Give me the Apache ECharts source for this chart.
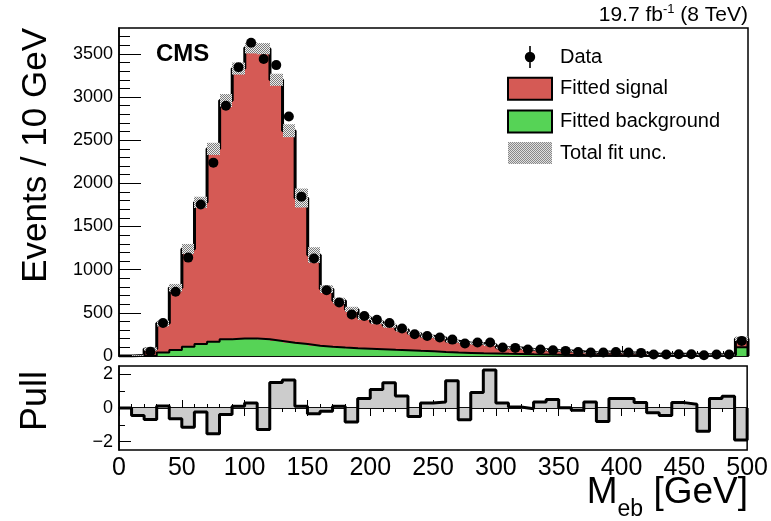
<!DOCTYPE html>
<html><head><meta charset="utf-8">
<script src="https://cdn.jsdelivr.net/npm/echarts@6/dist/echarts.min.js"></script>
<style>html,body{margin:0;padding:0;background:#fff}#c{width:771px;height:521px}</style>
</head><body><div id="c"></div>
<script>
// ---- data (10 GeV bins, last bin includes overflow) ----
const binLow = [0,10,20,30,40,50,60,70,80,90,100,110,120,130,140,150,160,170,180,190,
  200,210,220,230,240,250,260,270,280,290,300,310,320,330,340,350,360,370,380,390,
  400,410,420,430,440,450,460,470,480,490];
const binWidth = 10;
const signal = [0,8,77,338,721,1133,1641,2235,2767,3126,
  3366,3367,3025,2456,1691,1050,668,542,450,361,
  317,280,238,202,173,163,130,116,113,99,
  70,71,57,55,48,46,37,28,36,35,
  29,28,13,15,14,16,10,11,11,100];
const background = [0,0,3,40,69,107,139,165,193,204,
  204,193,175,154,139,120,107,98,90,84,
  78,72,67,60,55,45,40,36,32,29,
  25,22,19,17,15,13,11,10,9,8,
  7,6,6,5,5,4,4,4,3,100];
const fitUnc = [0,6,20,35,45,58,65,70,75,70,
  65,65,70,75,110,90,45,35,30,28,
  26,24,22,20,18,16,15,14,13,12,
  11,10,9,9,8,8,7,7,7,6,
  6,6,5,5,5,5,5,5,5,25];
const dataCounts = [null,null,50,382,745,1140,1755,2240,2900,3345,
  3630,3440,3370,2775,1845,1130,762,620,480,463,
  421,382,318,252,232,214,190,144,156,156,
  98,94,75,75,67,59,47,40,40,47,
  40,36,17,17,21,21,8,17,17,175];
const pull = [0,-0.44,-0.68,0.12,-0.64,-1.14,-0.24,-1.54,-0.38,0.1,
  0.3,-1.28,1.52,1.66,0.1,-0.34,-0.2,0.1,-0.84,0.56,
  1.1,1.5,0.72,-0.5,0.3,0.36,1.62,-0.7,0.92,2.26,
  0.3,0.06,-0.04,0.36,0.5,0.02,-0.14,0.36,-0.8,0.56,
  0.56,0.32,-0.28,-0.44,0.32,0.22,-1.38,0.56,0.7,-1.9];
const yMajorTicks = [0,500,1000,1500,2000,2500,3000,3500];
const yMinorTicks = [0,100,200,300,400,500,600,700,800,900,1000,1100,1200,1300,1400,1500,1600,1700,1800,1900,
  2000,2100,2200,2300,2400,2500,2600,2700,2800,2900,3000,3100,3200,3300,3400,3500,3600,3700];
const pullMajorTicks = [-2,0,2];
const pullMinorTicks = [-2,-1,0,1,2];

// ---- style ----
const FONT = "'Liberation Sans', Arial, Helvetica, sans-serif";
const RED = '#d55a55';
const GREEN = '#56d356';
function makeHatch(){
  const c=document.createElement('canvas'); c.width=4; c.height=4;
  const g=c.getContext('2d');
  g.fillStyle='#eeeeee'; g.fillRect(0,0,4,4);
  g.fillStyle='#7a7a7a';
  for(let y=0;y<4;y++) for(let x=0;x<4;x++) if((x+y)%2===0) g.fillRect(x,y,1,1);
  return c;
}
const HATCH = {image: makeHatch(), repeat: 'repeat'};

const total = signal.map((s,i)=>s+background[i]);
const rowsBkg = binLow.map((x,i)=>[x, x+binWidth, 0, background[i]]);
const rowsSig = binLow.map((x,i)=>[x, x+binWidth, background[i], total[i]]);
const rowsUnc = binLow.map((x,i)=>[x, x+binWidth, total[i]-fitUnc[i], total[i]+fitUnc[i]]);
const rowsPull = binLow.map((x,i)=>[x, x+binWidth, 0, pull[i]]);
function stepPts(vals){
  const p = binLow.map((x,i)=>[x, vals[i]]);
  p.push([binLow[binLow.length-1]+binWidth, vals[vals.length-1]]);
  p.push([binLow[binLow.length-1]+binWidth, 0]);
  return p;
}
const dataPts = binLow.map((x,i)=>[x+binWidth/2, dataCounts[i]]).filter(p=>p[1]!==null);

function rectItem(fill){
  return function(params, api){
    const a = api.coord([api.value(0), api.value(3)]);
    const b = api.coord([api.value(1), api.value(2)]);
    const x0 = Math.round(Math.min(a[0],b[0])), x1 = Math.round(Math.max(a[0],b[0]));
    const y = Math.min(a[1],b[1]);
    return {type:'rect', shape:{x:x0, y:y, width:x1-x0, height:Math.abs(b[1]-a[1])}, style:{fill:fill}};
  };
}
const noSep = v => String(v);

const chart = echarts.init(document.getElementById('c'), null, {renderer:'canvas'});
const axisCommon = {type:'value', splitLine:{show:false}, axisLine:{show:true, lineStyle:{color:'#000', width:1.5}}};
chart.setOption({
  animation:false,
  backgroundColor:'#fff',
  textStyle:{fontFamily:FONT},
  grid:[
    {left:119, top:28, width:629, height:328, show:true, borderColor:'#000', borderWidth:1.5},
    {left:119, top:366, width:629, height:84, show:true, borderColor:'#000', borderWidth:1.5}
  ],
  xAxis:[
    Object.assign({}, axisCommon, {gridIndex:0, min:0, max:500, interval:100,
      axisTick:{inside:true, length:10, lineStyle:{color:'#000'}},
      minorTick:{show:true, splitNumber:5, length:5, lineStyle:{color:'#000'}},
      axisLabel:{show:false}}),
    Object.assign({}, axisCommon, {gridIndex:1, min:0, max:500, interval:50, position:'bottom',
      axisTick:{inside:true, length:8, lineStyle:{color:'#000'}},
      minorTick:{show:true, splitNumber:5, length:4, lineStyle:{color:'#000'}},
      axisLabel:{show:true, fontSize:25, color:'#000', margin:6, fontFamily:FONT, formatter:noSep}}),
    Object.assign({}, axisCommon, {gridIndex:1, min:0, max:500, interval:50, position:'top',
      axisTick:{inside:true, length:8, lineStyle:{color:'#000'}},
      minorTick:{show:true, splitNumber:5, length:4, lineStyle:{color:'#000'}},
      axisLabel:{show:false}})
  ],
  yAxis:[
    Object.assign({}, axisCommon, {gridIndex:0, position:'left', min:0, max:3800,
      axisTick:{inside:true, length:22, customValues:yMajorTicks, lineStyle:{color:'#000'}},
      axisLabel:{show:true, customValues:yMajorTicks, fontSize:18, color:'#000', margin:6, fontFamily:FONT, formatter:noSep}}),
    Object.assign({}, axisCommon, {gridIndex:0, position:'left', min:0, max:3800, axisLine:{show:false},
      axisTick:{inside:true, length:11, customValues:yMinorTicks, lineStyle:{color:'#000'}},
      axisLabel:{show:false}}),
    Object.assign({}, axisCommon, {gridIndex:1, position:'left', min:-2.5, max:2.5,
      axisTick:{inside:true, length:12, customValues:pullMajorTicks, lineStyle:{color:'#000'}},
      axisLabel:{show:true, customValues:pullMajorTicks, fontSize:18, color:'#000', margin:6, fontFamily:FONT,
        formatter:v=> v<0 ? '\u2212'+(-v) : String(v)}}),
    Object.assign({}, axisCommon, {gridIndex:1, position:'left', min:-2.5, max:2.5, axisLine:{show:false},
      axisTick:{inside:true, length:6, customValues:pullMinorTicks, lineStyle:{color:'#000'}},
      axisLabel:{show:false}})
  ],
  legend:{
    orient:'vertical', left:507, top:46, padding:0, itemWidth:44, itemHeight:22, itemGap:8.7,
    selectedMode:false,
    textStyle:{fontSize:20, color:'#000', fontFamily:FONT, padding:[0,0,0,3]},
    data:[
      {name:'Data', icon:'path://M9.2,0H10.8V22H9.2Z M4.8,11A5.2,5.2,0,1,1,15.2,11A5.2,5.2,0,1,1,4.8,11Z', itemStyle:{color:'#000', opacity:1}},
      {name:'Fitted signal', icon:'rect', itemStyle:{color:RED, borderColor:'#000', borderWidth:2}},
      {name:'Fitted background', icon:'rect', itemStyle:{color:GREEN, borderColor:'#000', borderWidth:2}},
      {name:'Total fit unc.', icon:'rect', itemStyle:{color:HATCH, borderWidth:0}}
    ]
  },
  graphic:[
    {type:'text', right:23, top:3, style:{text:'{a|19.7 fb}{s|-1}{a| (8 TeV)}', fill:'#000',
      rich:{a:{fontSize:21, lineHeight:23, verticalAlign:'bottom', fontFamily:FONT, fill:'#000'},
            s:{fontSize:13, lineHeight:23, verticalAlign:'top', fontFamily:FONT, fill:'#000'}}}},
    {type:'text', left:156, top:42, style:{text:'CMS', font:'bold 24px '+FONT, fill:'#000'}},
    {type:'text', x:36, y:28, rotation:Math.PI/2, style:{text:'Events / 10 GeV', font:'35px '+FONT, fill:'#000', align:'right', verticalAlign:'middle'}},
    {type:'text', x:36, y:371, rotation:Math.PI/2, style:{text:'Pull', font:'36px '+FONT, fill:'#000', align:'right', verticalAlign:'middle'}},
    {type:'text', x:748, y:474, style:{text:'{m|M}{s|eb}{m| [GeV]}', align:'right', verticalAlign:'top', fill:'#000',
      rich:{m:{fontSize:37, lineHeight:47, verticalAlign:'top', fontFamily:FONT, fill:'#000'},
            s:{fontSize:23, lineHeight:47, verticalAlign:'bottom', fontFamily:FONT, fill:'#000'}}}}
  ],
  series:[
    {name:'Fitted background', type:'custom', xAxisIndex:0, yAxisIndex:0, z:1, silent:true,
      encode:{x:[0,1], y:[2,3]}, data:rowsBkg, renderItem:rectItem(GREEN), itemStyle:{color:GREEN}},
    {name:'Fitted signal', type:'custom', xAxisIndex:0, yAxisIndex:0, z:1, silent:true,
      encode:{x:[0,1], y:[2,3]}, data:rowsSig, renderItem:rectItem(RED), itemStyle:{color:RED}},
    {type:'line', xAxisIndex:0, yAxisIndex:0, z:2, silent:true, step:'end', symbol:'none',
      data:stepPts(background), lineStyle:{color:'#000', width:2}},
    {type:'line', xAxisIndex:0, yAxisIndex:0, z:2, silent:true, step:'end', symbol:'none',
      data:stepPts(total), lineStyle:{color:'#000', width:3}},
    {name:'Total fit unc.', type:'custom', xAxisIndex:0, yAxisIndex:0, z:3, silent:true,
      encode:{x:[0,1], y:[2,3]}, data:rowsUnc, renderItem:rectItem(HATCH), itemStyle:{color:HATCH}},
    {name:'Data', type:'scatter', xAxisIndex:0, yAxisIndex:0, z:4, silent:true,
      symbol:'circle', symbolSize:10, data:dataPts, itemStyle:{color:'#000', opacity:1}},
    {type:'custom', xAxisIndex:1, yAxisIndex:2, z:1, silent:true,
      encode:{x:[0,1], y:[2,3]}, data:rowsPull, renderItem:rectItem('#cccccc')},
    {type:'line', xAxisIndex:1, yAxisIndex:2, z:2, silent:true, step:'end', symbol:'none',
      data:stepPts(pull), lineStyle:{color:'#000', width:3}}
  ]
});
</script>
</body></html>
